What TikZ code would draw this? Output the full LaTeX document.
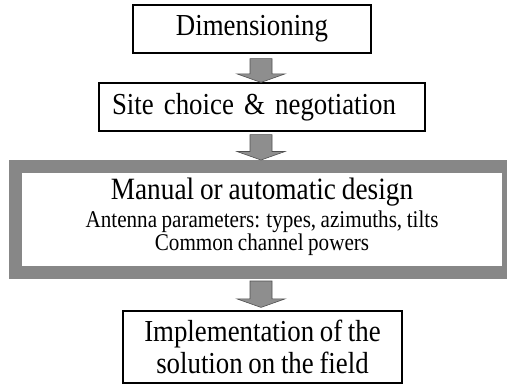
\documentclass[tikz,border=0pt]{standalone}
\usepackage{fontspec}
\setmainfont{Liberation Serif}[FakeStretch=0.88, WordSpace=0.85]
\usetikzlibrary{calc}
\definecolor{framegray}{HTML}{878787}
\definecolor{arrowgray}{HTML}{8E8E8E}
\definecolor{arrowedge}{HTML}{505050}
\tikzset{
  stepbox/.style={draw=black, line width=1.2pt, fill=white, inner sep=0pt,
    font=\fontsize{30.5}{32}\selectfont, align=center},
  designframe/.style={draw=framegray, line width=13pt, fill=white, inner sep=0pt},
  blockarrow/.style={fill=arrowgray, draw=arrowedge, line width=0.6pt, line join=miter},
}
% block arrow from a shaft top point #1 down to a tip point #2
\newcommand\blockarrow[2]{%
  \draw[blockarrow] let \p1=(#1), \p2=(#2) in
    (\x1-11pt,\y1) -- (\x1+11pt,\y1) -- (\x1+11pt,\y2+8.5pt) -- (\x1+24pt,\y2+8.5pt)
    -- (\x1,\y2) -- (\x1-24pt,\y2+8.5pt) -- (\x1-11pt,\y2+8.5pt) -- cycle;}
\begin{document}
\begin{tikzpicture}[x=1pt, y=-1pt]
  \useasboundingbox (0,0) rectangle (507,384);
  \coordinate (ax) at (261,0);

  \node[stepbox, minimum width=238pt, minimum height=48pt] (dim) at (252,29) {Dimensioning};
  \node[stepbox, minimum height=48pt, text width=300pt, inner xsep=13pt, align=left]
    (site) at (262,107) {Site choice \& negotiation};
  \node[designframe, minimum width=493pt, minimum height=106pt] (design) at (262,219.5)
    {};
  \node[align=center, inner sep=0pt, font=\fontsize{24}{23}\selectfont] (designtext)
    at ([yshift=3pt]design.center)
    {{\fontsize{31}{31}\selectfont Manual or automatic design}\\[4pt]
     Antenna parameters: types, azimuths, tilts\\
     Common channel powers};
  \node[stepbox, minimum width=279pt, minimum height=72pt] (impl) at (262.5,347)
    {Implementation of the\\solution on the field};

  \blockarrow{$(dim.south -| ax)+(0,5)$}{site.north -| ax}
  \blockarrow{$(site.south -| ax)+(0,3)$}{design.north -| ax}
  \blockarrow{$(design.south -| ax)+(0,2)$}{$(impl.north -| ax)+(0,-3)$}
\end{tikzpicture}
\end{document}
